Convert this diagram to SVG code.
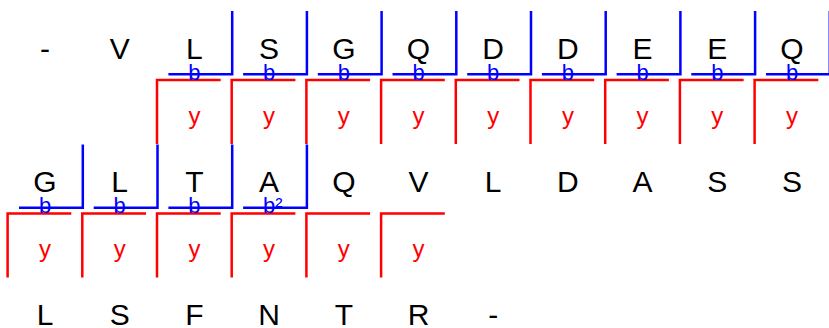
<svg xmlns="http://www.w3.org/2000/svg" width="829" height="328" viewBox="0 0 829 328">
<style>
.aa{font-family:"Liberation Sans",Arial,sans-serif;font-size:30px;fill:#000;text-anchor:middle}
.b{font-family:"Liberation Sans",Arial,sans-serif;font-size:22px;fill:#0000ff;text-anchor:middle}
.y{font-family:"Liberation Sans",Arial,sans-serif;font-size:24px;fill:#ff0000;text-anchor:middle}
.bl{fill:none;stroke:#0000ff;stroke-width:2.5}
.rd{fill:none;stroke:#ff0000;stroke-width:2.5}
</style>
<rect width="829" height="328" fill="#fff"/>
<g id="connectors">
<!-- row 1 blue (b ions) -->
<path class="bl" d="M168.4,74.3H232.2V11"/>
<path class="bl" d="M243.1,74.3H306.9V11"/>
<path class="bl" d="M317.8,74.3H381.6V11"/>
<path class="bl" d="M392.5,74.3H456.3V11"/>
<path class="bl" d="M467.2,74.3H531V11"/>
<path class="bl" d="M541.9,74.3H605.7V11"/>
<path class="bl" d="M616.6,74.3H680.4V11"/>
<path class="bl" d="M691.3,74.3H755.1V11"/>
<path class="bl" d="M766,74.3H829.8V11"/>
<!-- row 1 red (y ions) -->
<path class="rd" d="M220.7,80H157V144"/>
<path class="rd" d="M295.4,80H231.7V144"/>
<path class="rd" d="M370.1,80H306.4V144"/>
<path class="rd" d="M444.8,80H381.1V144"/>
<path class="rd" d="M519.5,80H455.8V144"/>
<path class="rd" d="M594.2,80H530.5V144"/>
<path class="rd" d="M668.9,80H605.2V144"/>
<path class="rd" d="M743.6,80H679.9V144"/>
<path class="rd" d="M818.3,80H754.6V144"/>
<!-- row 2 blue -->
<path class="bl" d="M19,207.8H82.8V144.5"/>
<path class="bl" d="M93.7,207.8H157.5V144.5"/>
<path class="bl" d="M168.4,207.8H232.2V144.5"/>
<path class="bl" d="M243.1,207.8H306.9V144.5"/>
<!-- row 2 red -->
<path class="rd" d="M71.3,213.5H7.6V277.5"/>
<path class="rd" d="M146,213.5H82.3V277.5"/>
<path class="rd" d="M220.7,213.5H157V277.5"/>
<path class="rd" d="M295.4,213.5H231.7V277.5"/>
<path class="rd" d="M370.1,213.5H306.4V277.5"/>
<path class="rd" d="M444.8,213.5H381.1V277.5"/>
</g>
<g id="row1">
<g id="r1c0"><text class="aa" x="45" y="58.7">-</text></g>
<g id="r1c1"><text class="aa" x="119.7" y="58.7">V</text></g>
<g id="r1c2"><text class="aa" x="194.4" y="58.7">L</text><text class="b" x="194.4" y="79.5">b</text><text class="y" x="194.4" y="123.5">y</text></g>
<g id="r1c3"><text class="aa" x="269.1" y="58.7">S</text><text class="b" x="269.1" y="79.5">b</text><text class="y" x="269.1" y="123.5">y</text></g>
<g id="r1c4"><text class="aa" x="343.8" y="58.7">G</text><text class="b" x="343.8" y="79.5">b</text><text class="y" x="343.8" y="123.5">y</text></g>
<g id="r1c5"><text class="aa" x="418.5" y="58.7">Q</text><text class="b" x="418.5" y="79.5">b</text><text class="y" x="418.5" y="123.5">y</text></g>
<g id="r1c6"><text class="aa" x="493.2" y="58.7">D</text><text class="b" x="493.2" y="79.5">b</text><text class="y" x="493.2" y="123.5">y</text></g>
<g id="r1c7"><text class="aa" x="567.9" y="58.7">D</text><text class="b" x="567.9" y="79.5">b</text><text class="y" x="567.9" y="123.5">y</text></g>
<g id="r1c8"><text class="aa" x="642.6" y="58.7">E</text><text class="b" x="642.6" y="79.5">b</text><text class="y" x="642.6" y="123.5">y</text></g>
<g id="r1c9"><text class="aa" x="717.3" y="58.7">E</text><text class="b" x="717.3" y="79.5">b</text><text class="y" x="717.3" y="123.5">y</text></g>
<g id="r1c10"><text class="aa" x="792" y="58.7">Q</text><text class="b" x="792" y="79.5">b</text><text class="y" x="792" y="123.5">y</text></g>
</g>
<g id="row2">
<g id="r2c0"><text class="aa" x="45" y="192.2">G</text><text class="b" x="45" y="213">b</text><text class="y" x="45" y="257">y</text></g>
<g id="r2c1"><text class="aa" x="119.7" y="192.2">L</text><text class="b" x="119.7" y="213">b</text><text class="y" x="119.7" y="257">y</text></g>
<g id="r2c2"><text class="aa" x="194.4" y="192.2">T</text><text class="b" x="194.4" y="213">b</text><text class="y" x="194.4" y="257">y</text></g>
<g id="r2c3"><text class="aa" x="269.1" y="192.2">A</text><text class="b" x="263" y="213" style="text-anchor:start">b²</text><text class="y" x="269.1" y="257">y</text></g>
<g id="r2c4"><text class="aa" x="343.8" y="192.2">Q</text><text class="y" x="343.8" y="257">y</text></g>
<g id="r2c5"><text class="aa" x="418.5" y="192.2">V</text><text class="y" x="418.5" y="257">y</text></g>
<g id="r2c6"><text class="aa" x="493.2" y="192.2">L</text></g>
<g id="r2c7"><text class="aa" x="567.9" y="192.2">D</text></g>
<g id="r2c8"><text class="aa" x="642.6" y="192.2">A</text></g>
<g id="r2c9"><text class="aa" x="717.3" y="192.2">S</text></g>
<g id="r2c10"><text class="aa" x="792" y="192.2">S</text></g>
</g>
<g id="row3">
<g id="r3c0"><text class="aa" x="45" y="324.7">L</text></g>
<g id="r3c1"><text class="aa" x="119.7" y="324.7">S</text></g>
<g id="r3c2"><text class="aa" x="194.4" y="324.7">F</text></g>
<g id="r3c3"><text class="aa" x="269.1" y="324.7">N</text></g>
<g id="r3c4"><text class="aa" x="343.8" y="324.7">T</text></g>
<g id="r3c5"><text class="aa" x="418.5" y="324.7">R</text></g>
<g id="r3c6"><text class="aa" x="493.2" y="324.7">-</text></g>
</g>
</svg>
